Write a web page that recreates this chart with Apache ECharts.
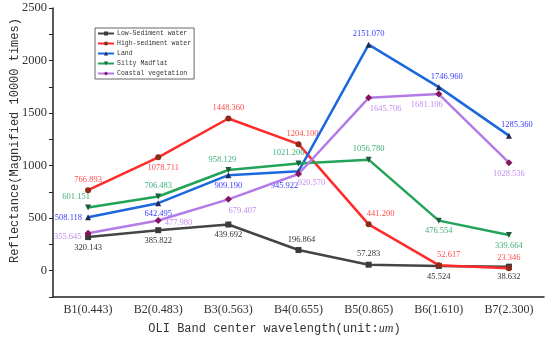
<!DOCTYPE html>
<html><head><meta charset="utf-8">
<script src="https://cdn.jsdelivr.net/npm/echarts@6/dist/echarts.min.js"></script>
<style>html,body{margin:0;padding:0;background:#fff}#c{width:550px;height:340px}</style>
</head><body><div id="c"></div>
<script>
const categories = ['B1(0.443)','B2(0.483)','B3(0.563)','B4(0.655)','B5(0.865)','B6(1.610)','B7(2.300)'];
const seriesNames = ['Low-Sediment water','High-sediment water','Land','Silty Madflat','Coastal vegetation'];
const lowSediment = [320.143, 385.822, 439.692, 196.864, 57.283, 45.524, 38.632];
const highSediment = [766.893, 1078.711, 1448.360, 1204.100, 441.200, 52.617, 23.346];
const land = [508.118, 642.495, 909.190, 945.922, 2151.070, 1746.960, 1285.360];
const siltyMadflat = [601.151, 706.483, 958.129, 1021.200, 1056.780, 476.554, 339.664];
const coastalVeg = [355.645, 477.980, 679.407, 920.570, 1645.706, 1681.106, 1028.536];
const yTicks = [0, 500, 1000, 1500, 2000, 2500];

// label placement per point: [position, dx, dy]
const labelPos = [
  [['bottom',0,0],['bottom',0,0],['bottom',0,0],['top',3,0],['top',0,0],['bottom',0,0],['bottom',0,0]],
  [['top',0,0],['bottom',5,0],['top',0,0],['top',4,0],['top',12,0],['top',10,0],['top',0,0]],
  [['left',0,0],['bottom',0,0],['bottom',0,0],['bottom',-14,4],['top',0,0],['top',8,0],['top',8,0]],
  [['top',-12,0],['top',0,0],['top',-6,0],['top',-10,0],['top',0,0],['bottom',0,0],['bottom',0,0]],
  [['left',0,3],['right',0,2],['bottom',14,0],['bottom',13,-2],['bottom',17,0],['bottom',-12,0],['bottom',0,0]]
];
const lineColors = ['#454545','#ff2b2b','#1b68de','#22a458','#b47be6'];
const markColors = ['#3a3a3a','#8e2a1a','#1f2a55','#1d5a3e','#86155f'];
const labelColors = ['#333333','#ff4d4d','#3b3bff','#3fb07c','#c48cf0'];
const symbols = ['rect','circle','triangle','path://M0,0 L10,0 L5,9 Z','diamond'];
const values = [lowSediment, highSediment, land, siltyMadflat, coastalVeg];

const series = values.map((arr, si) => ({
  name: seriesNames[si],
  type: 'line',
  data: arr.map((v, i) => ({
    value: v,
    label: {
      position: labelPos[si][i][0],
      offset: [labelPos[si][i][1], labelPos[si][i][2]]
    }
  })),
  symbol: symbols[si],
  symbolSize: si === 4 ? 7 : 6,
  lineStyle: {color: lineColors[si], width: 2.5},
  itemStyle: {color: markColors[si]},
  label: {
    show: true, distance: 3,
    fontFamily: 'Liberation Serif', fontSize: 8.5, color: labelColors[si],
    formatter: p => p.value.toFixed(3)
  },
  z: 2 + si
}));
series.forEach((s, si) => { s.color = lineColors[si]; });

const chart = echarts.init(document.getElementById('c'), null, {renderer: 'canvas'});
chart.setOption({
  animation: false,
  backgroundColor: '#fff',
  grid: {left: 53, right: 6, top: 8, bottom: 43, containLabel: false, outerBoundsMode: 'none'},
  legend: {
    orient: 'vertical', left: 95, top: 28,
    itemWidth: 16, itemHeight: 5, itemGap: 3,
    padding: [2, 3, 2, 2],
    borderColor: '#666', borderWidth: 1,
    textStyle: {fontFamily: 'Liberation Mono', fontSize: 6.5, color: '#333', padding: [0,0,0,-2]},
    data: seriesNames
  },
  xAxis: {
    type: 'category', data: categories, boundaryGap: true,
    axisLine: {lineStyle: {color: '#222', width: 1.5}, onZero: false},
    axisTick: {alignWithLabel: true, length: 5, lineStyle: {color: '#222'}},
    axisLabel: {fontFamily: 'Liberation Serif', fontSize: 12, color: '#333', margin: 7},
    name: 'OLI Band center wavelength(unit:{i|um})',
    nameLocation: 'middle', nameGap: 26,
    nameTextStyle: {fontFamily: 'Liberation Mono', fontSize: 12, color: '#333', padding: [0, 48, 0, 0],
      rich: {i: {fontFamily: 'Liberation Serif', fontStyle: 'italic', fontSize: 12, color: '#333'}}}
  },
  yAxis: {
    type: 'value', min: -250, max: 2500, interval: 250,
    splitLine: {show: false},
    axisLine: {show: true, lineStyle: {color: '#222', width: 1.5}},
    axisTick: {show: true, length: 4, lineStyle: {color: '#222'}},
    axisLabel: {fontFamily: 'Liberation Serif', fontSize: 12.5, color: '#333', margin: 6,
      formatter: v => yTicks.includes(v) ? String(v) : ''},
    name: 'Reflectance(Magnified 10000 times)',
    nameLocation: 'middle', nameGap: 32, nameRotate: 90, nameMoveOverlap: false,
    nameTextStyle: {fontFamily: 'Liberation Mono', fontSize: 12, color: '#333', padding: [0, 0, 0, 24]}
  },
  series: series
});
</script></body></html>
